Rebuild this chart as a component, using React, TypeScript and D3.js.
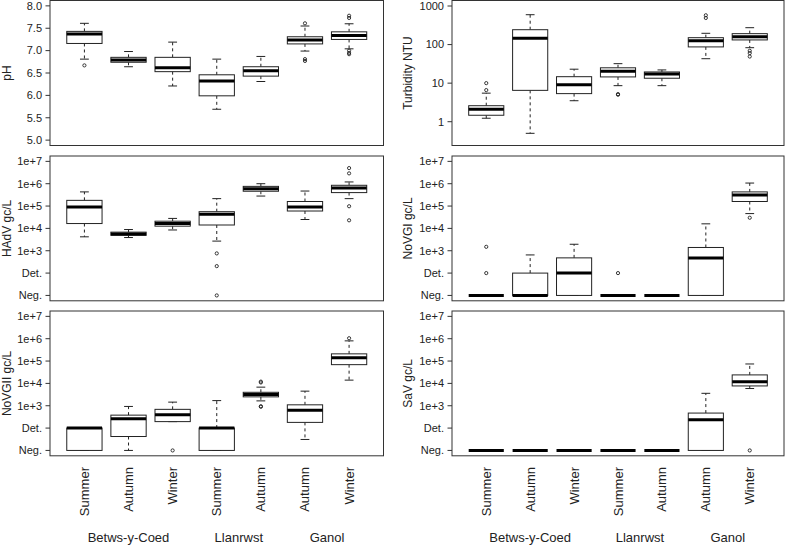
import React from "react";
import * as d3 from "d3";

const NEG = 10;
const DET = 100;

const seasons = ["Summer", "Autumn", "Winter", "Summer", "Autumn", "Autumn", "Winter"];
const siteNames = ["Betws-y-Coed", "Llanrwst", "Ganol"];
const siteGroupSizes = [3, 2, 2];

// [lower whisker, Q1, median, Q3, upper whisker]
const pHStats = [
  [6.81, 7.16, 7.37, 7.43, 7.61],
  [6.64, 6.74, 6.79, 6.85, 6.98],
  [6.21, 6.53, 6.62, 6.85, 7.19],
  [5.69, 5.99, 6.32, 6.46, 6.81],
  [6.31, 6.43, 6.55, 6.64, 6.87],
  [6.99, 7.15, 7.24, 7.31, 7.55],
  [7.04, 7.25, 7.34, 7.42, 7.6],
];
const pHOutliers = [[6.67], [], [], [], [], [7.61, 6.81, 6.77], [7.78, 7.73, 7.0, 6.95, 6.92]];

const turbidityStats = [
  [1.23, 1.47, 2.1, 2.6, 5.5],
  [0.5, 6.5, 145, 243, 595],
  [3.5, 5.35, 9.1, 14.7, 23],
  [8.6, 14.5, 20.3, 25, 32],
  [8.6, 13.4, 17.3, 19.5, 22],
  [43, 87, 126, 151, 196],
  [83, 132, 160, 192, 274],
];
const turbidityOutliers = [[10, 6.6], [], [], [5.0, 5.2], [], [575, 490], [69, 60, 49]];

const hadvStats = [
  [4.2e3, 1.65e4, 9.1e4, 1.8e5, 4.3e5],
  [3.9e3, 4.9e3, 5.6e3, 6.8e3, 8.9e3],
  [8.5e3, 1.26e4, 1.65e4, 2.1e4, 2.8e4],
  [2.7e3, 1.42e4, 4.3e4, 5.6e4, 2.15e5],
  [2.8e5, 4.6e5, 6e5, 7.6e5, 1e6],
  [2.5e4, 6e4, 9.1e4, 1.6e5, 4.7e5],
  [2.15e5, 4e5, 6.5e5, 8.5e5, 1.2e6],
];
const hadvOutliers = [[], [], [], [760, 205, NEG], [], [], [5e6, 2.9e6, 9.8e4, 2.3e4]];

const novgiStats = [
  [NEG, NEG, NEG, NEG, NEG],
  [NEG, NEG, NEG, DET, 650],
  [NEG, NEG, DET, 480, 1950],
  [NEG, NEG, NEG, NEG, NEG],
  [NEG, NEG, NEG, NEG, NEG],
  [NEG, NEG, 470, 1400, 1.6e4],
  [4.6e4, 1.6e5, 3.1e5, 4.3e5, 1.07e6],
];
const novgiOutliers = [[1500, DET], [], [], [DET], [], [], [3.0e4]];

const novgiiStats = [
  [NEG, NEG, DET, DET, DET],
  [NEG, 42, 260, 380, 930],
  [195, 195, 400, 690, 1450],
  [NEG, NEG, DET, DET, 1700],
  [1650, 2500, 3200, 4000, 6800],
  [31, 180, 630, 1100, 4500],
  [1.4e4, 6.9e4, 1.4e5, 2.1e5, 8e5],
];
const novgiiOutliers = [[], [], [NEG], [], [1.1e4, 1.2e4, 900, 950], [], [1.05e6]];

const savStats = [
  [NEG, NEG, NEG, NEG, NEG],
  [NEG, NEG, NEG, NEG, NEG],
  [NEG, NEG, NEG, NEG, NEG],
  [NEG, NEG, NEG, NEG, NEG],
  [NEG, NEG, NEG, NEG, NEG],
  [NEG, NEG, 235, 470, 3600],
  [5900, 7700, 1.2e4, 2.4e4, 7.4e4],
];
const savOutliers = [[], [], [], [], [], [], [NEG]];

const pHTicks = [5.0, 5.5, 6.0, 6.5, 7.0, 7.5, 8.0];
const turbidityTicks = [1, 10, 100, 1000];
const virusTicks = [NEG, DET, 1e3, 1e4, 1e5, 1e6, 1e7];
const virusTickLabels = ["Neg.", "Det.", "1e+3", "1e+4", "1e+5", "1e+6", "1e+7"];

const FONT = "'Liberation Sans', Arial, Helvetica, sans-serif";
const INK = "#222";

type PanelDef = {
  title: string;
  stats: number[][];
  outliers: number[][];
  scale: any;
  ticks: number[];
  labels: string[];
};

const colX = [
  [50, 383.5],
  [452, 784],
];
const rowY = [
  [0.5, 145.5],
  [156, 300.8],
  [311, 455.8],
];

function virusScale(r: number[]) {
  return d3.scaleLog().domain([Math.pow(10, 0.76), Math.pow(10, 7.24)]).range([r[1], r[0]]);
}

function Panel({ def, col, row }: { def: PanelDef; col: number; row: number }) {
  const [x0, x1] = colX[col];
  const [y0, y1] = rowY[row];
  const x = d3.scaleLinear().domain([0.22, 7.78]).range([x0, x1]);
  const y = def.scale;
  const bw = x(1.4) - x(1.0);
  const cap = bw / 2;
  const tickLeft = x0 - 4.5;
  const titleX = col === 0 ? 11 : 412;
  return (
    <g>
      {def.stats.map((s, i) => {
        const cx = x(i + 1);
        const [lo, q1, med, q3, hi] = s;
        return (
          <g key={i}>
            {hi > q3 && (
              <line x1={cx} x2={cx} y1={y(q3)} y2={y(hi)} stroke={INK} strokeDasharray="3,3" />
            )}
            {lo < q1 && (
              <line x1={cx} x2={cx} y1={y(q1)} y2={y(lo)} stroke={INK} strokeDasharray="3,3" />
            )}
            <line x1={cx - cap / 2} x2={cx + cap / 2} y1={y(hi)} y2={y(hi)} stroke={INK} />
            <line x1={cx - cap / 2} x2={cx + cap / 2} y1={y(lo)} y2={y(lo)} stroke={INK} />
            <rect
              x={cx - bw}
              y={y(q3)}
              width={bw * 2}
              height={Math.max(0, y(q1) - y(q3))}
              fill="white"
              stroke={INK}
            />
            <line x1={cx - bw} x2={cx + bw} y1={y(med)} y2={y(med)} stroke="#000" strokeWidth={3} />
            {def.outliers[i].map((o, j) => (
              <circle key={j} cx={cx} cy={y(o)} r={1.6} fill="none" stroke={INK} strokeWidth={0.9} />
            ))}
          </g>
        );
      })}
      <rect x={x0} y={y0} width={x1 - x0} height={y1 - y0} fill="none" stroke="#333" />
      {def.ticks.map((t, i) => (
        <g key={i}>
          <line x1={tickLeft} x2={x0} y1={y(t)} y2={y(t)} stroke="#333" />
          <text
            x={x0 - 8}
            y={y(t)}
            dy="0.35em"
            textAnchor="end"
            fontSize={11}
            fontFamily={FONT}
            fill={INK}
          >
            {def.labels[i]}
          </text>
        </g>
      ))}
      <text
        transform={`translate(${titleX},${(y0 + y1) / 2}) rotate(-90)`}
        textAnchor="middle"
        fontSize={12}
        fontFamily={FONT}
        fill={INK}
      >
        {def.title}
      </text>
    </g>
  );
}

function XLabels({ col }: { col: number }) {
  const [x0, x1] = colX[col];
  const x = d3.scaleLinear().domain([0.22, 7.78]).range([x0, x1]);
  let start = 1;
  const groups = siteGroupSizes.map((n, gi) => {
    const mid = start + (n - 1) / 2;
    start += n;
    return { name: siteNames[gi], mid };
  });
  return (
    <g>
      {seasons.map((s, i) => (
        <text
          key={i}
          transform={`translate(${x(i + 1) + 4.5},467) rotate(-90)`}
          textAnchor="end"
          fontSize={13}
          fontFamily={FONT}
          fill={INK}
        >
          {s}
        </text>
      ))}
      {groups.map((g, i) => (
        <text
          key={i}
          x={x(g.mid)}
          y={541.5}
          textAnchor="middle"
          fontSize={13}
          fontFamily={FONT}
          fill={INK}
        >
          {g.name}
        </text>
      ))}
    </g>
  );
}

export default function App() {
  const virusLabels = virusTickLabels;
  const left: PanelDef[] = [
    {
      title: "pH",
      stats: pHStats,
      outliers: pHOutliers,
      scale: d3.scaleLinear().domain([4.88, 8.12]).range([rowY[0][1], rowY[0][0]]),
      ticks: pHTicks,
      labels: pHTicks.map((t) => t.toFixed(1)),
    },
    {
      title: "HAdV gc/L",
      stats: hadvStats,
      outliers: hadvOutliers,
      scale: virusScale(rowY[1]),
      ticks: virusTicks,
      labels: virusLabels,
    },
    {
      title: "NoVGII gc/L",
      stats: novgiiStats,
      outliers: novgiiOutliers,
      scale: virusScale(rowY[2]),
      ticks: virusTicks,
      labels: virusLabels,
    },
  ];
  const right: PanelDef[] = [
    {
      title: "Turbidity NTU",
      stats: turbidityStats,
      outliers: turbidityOutliers,
      scale: d3
        .scaleLog()
        .domain([Math.pow(10, -0.617), Math.pow(10, 3.143)])
        .range([rowY[0][1], rowY[0][0]]),
      ticks: turbidityTicks,
      labels: turbidityTicks.map((t) => String(t)),
    },
    {
      title: "NoVGI gc/L",
      stats: novgiStats,
      outliers: novgiOutliers,
      scale: virusScale(rowY[1]),
      ticks: virusTicks,
      labels: virusLabels,
    },
    {
      title: "SaV gc/L",
      stats: savStats,
      outliers: savOutliers,
      scale: virusScale(rowY[2]),
      ticks: virusTicks,
      labels: virusLabels,
    },
  ];
  return (
    <svg
      width={787}
      height={545}
      style={{ position: "absolute", left: 0, top: 0, display: "block", background: "white" }}
    >
      <rect x={0} y={0} width={787} height={545} fill="white" />
      {left.map((d, i) => (
        <Panel key={"l" + i} def={d} col={0} row={i} />
      ))}
      {right.map((d, i) => (
        <Panel key={"r" + i} def={d} col={1} row={i} />
      ))}
      <XLabels col={0} />
      <XLabels col={1} />
    </svg>
  );
}
